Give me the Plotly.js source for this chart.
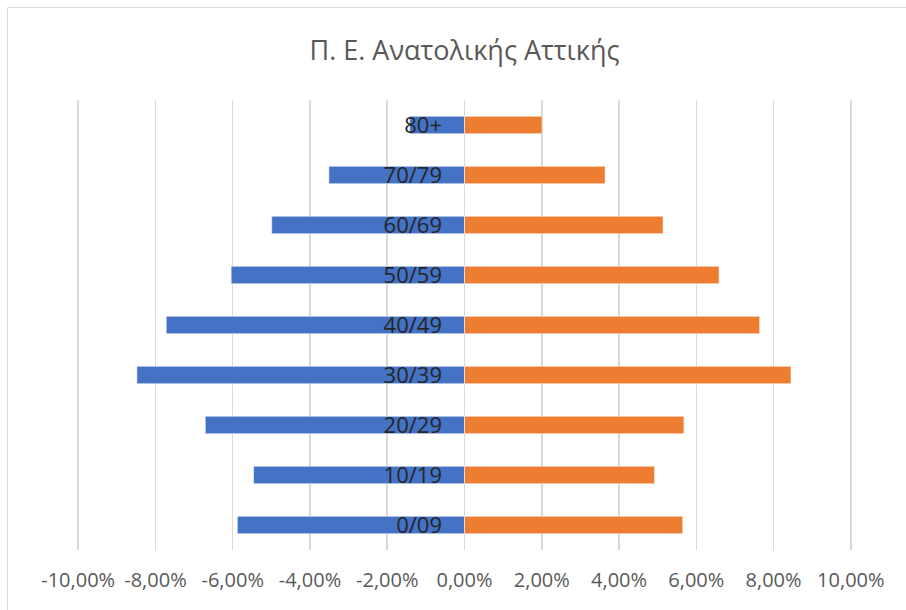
<!DOCTYPE html>
<html>
<head>
<meta charset="utf-8">
<script src="https://cdn.plot.ly/plotly-3.0.1.min.js"></script>
<style>html,body{margin:0;padding:0;background:#fff;}#chart{width:906px;height:610px;}</style>
</head>
<body>
<div id="chart"></div>
<script>
// Age groups, bottom to top
var categories = ["0/09", "10/19", "20/29", "30/39", "40/49", "50/59", "60/69", "70/79", "80+"];
// Left (blue) series, negative shares
var blueValues = [-0.0588, -0.0546, -0.0671, -0.0848, -0.0772, -0.0604, -0.0499, -0.0351, -0.0142];
// Right (orange) series, positive shares
var orangeValues = [0.0565, 0.0492, 0.0568, 0.0845, 0.0764, 0.0659, 0.0514, 0.0364, 0.0201];
// Horizontal axis ticks
var tickValues = [-0.10, -0.08, -0.06, -0.04, -0.02, 0, 0.02, 0.04, 0.06, 0.08, 0.10];
var tickLabels = ["-10,00%", "-8,00%", "-6,00%", "-4,00%", "-2,00%", "0,00%", "2,00%", "4,00%", "6,00%", "8,00%", "10,00%"];
var titleText = "Π. Ε. Ανατολικής Αττικής";

var W = 906, H = 610;
var mL = 77, mR = 54, mT = 100, mB = 60;
var pw = W - mL - mR, ph = H - mT - mB;
function px2x(p) { return (p - mL) / pw; }
function py2y(p) { return (H - mB - p) / ph; }
var zeroPos = (464 - mL) / pw;

var traces = [
  {
    type: "bar", orientation: "h", y: categories, x: blueValues,
    marker: { color: "#4472C4", line: { color: "rgba(255,255,255,0.55)", width: 1 } },
    hoverinfo: "none", showlegend: false
  },
  {
    type: "bar", orientation: "h", y: categories, x: orangeValues,
    marker: { color: "#ED7D31", line: { color: "rgba(255,255,255,0.55)", width: 1 } },
    hoverinfo: "none", showlegend: false
  }
];

var layout = {
  width: W, height: H,
  margin: { l: mL, r: mR, t: mT, b: mB, pad: 0 },
  paper_bgcolor: "#ffffff", plot_bgcolor: "#ffffff",
  barmode: "relative", bargap: 0.65,
  title: {
    text: titleText, x: 0.5, xref: "paper", xanchor: "center",
    y: 1 - 51 / H, yref: "container", yanchor: "middle",
    font: { family: "Open Sans", size: 27, color: "#595959" }
  },
  xaxis: {
    range: [-0.1003, 0.1003], tickvals: tickValues, ticktext: tickLabels,
    showgrid: true, gridcolor: "#d9d9d9", gridwidth: 1.5,
    zeroline: true, zerolinecolor: "#d9d9d9", zerolinewidth: 1.5,
    showline: false, ticks: "", ticklabelstandoff: 16,
    tickfont: { family: "Open Sans", size: 20, color: "#595959" },
    fixedrange: true
  },
  yaxis: {
    anchor: "free", position: zeroPos, side: "left",
    showgrid: false, zeroline: false, showline: false, ticks: "",
    ticklabelstandoff: 22,
    tickfont: { family: "Open Sans", size: 22, color: "#262626" },
    fixedrange: true
  },
  shapes: [
    {
      type: "rect", xref: "paper", yref: "paper", layer: "below",
      x0: px2x(7.5), x1: px2x(915), y0: py2y(620), y1: py2y(7.5),
      line: { color: "#d9d9d9", width: 1 }, fillcolor: "rgba(0,0,0,0)"
    }
  ]
};

Plotly.newPlot("chart", traces, layout, { displayModeBar: false, staticPlot: true });
</script>
</body>
</html>
